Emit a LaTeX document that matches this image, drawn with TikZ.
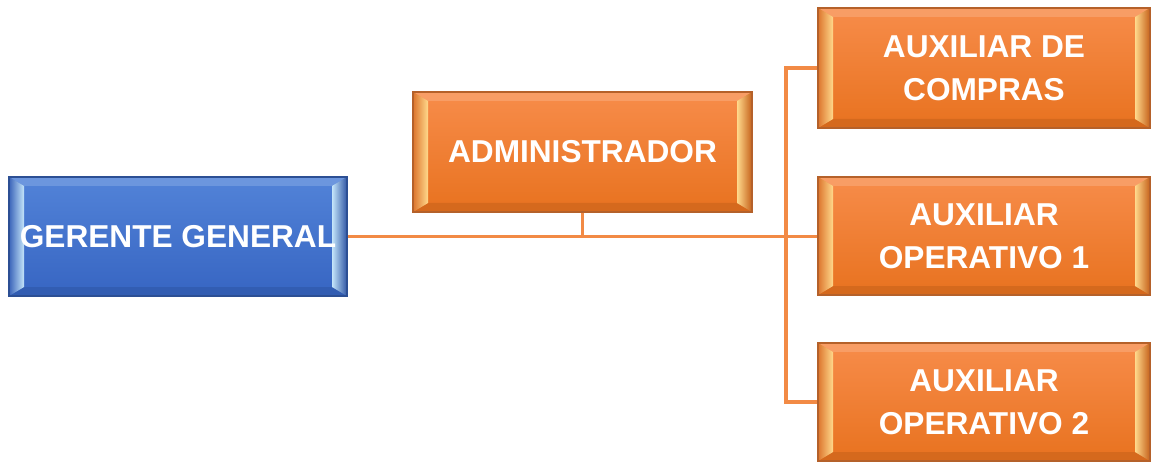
\documentclass[tikz,border=0pt]{standalone}
\usepackage{fontspec}
\setmainfont{Liberation Sans}
\usetikzlibrary{calc}

\definecolor{orgmain}{HTML}{F58232}
\definecolor{orgtop}{HTML}{F78C4A}
\definecolor{orgbot}{HTML}{E8721F}
\definecolor{orgedge}{HTML}{B5612A}
\definecolor{orghi}{HTML}{FFD98C}
\definecolor{blumain}{HTML}{416FCE}
\definecolor{blutop}{HTML}{5283D8}
\definecolor{blubot}{HTML}{3765C2}
\definecolor{bluedge}{HTML}{2C4F94}
\definecolor{bluhi}{HTML}{C4E5FA}
\definecolor{linkorg}{HTML}{F28A45}

\tikzset{
  card/.style n args={5}{draw=#4, line width=0.6pt, top color=#2, bottom color=#3,
    text=white, align=center, inner sep=0pt,
    font=\fontsize{18}{24.5}\selectfont\bfseries,
    path picture={
      \coordinate (bvsw) at (path picture bounding box.south west);
      \coordinate (bvne) at (path picture bounding box.north east);
      \coordinate (bvnw) at (bvsw |- bvne);
      \coordinate (bvse) at (bvne |- bvsw);
      % top and bottom bevel
      \fill[#2!85!white] (bvnw) -- (bvne) -- ($(bvne)+(-0.3,-0.18)$) -- ($(bvnw)+(0.3,-0.18)$) -- cycle;
      \fill[#3!92!black] (bvsw) -- (bvse) -- ($(bvse)+(-0.3,0.18)$) -- ($(bvsw)+(0.3,0.18)$) -- cycle;
      % left and right bevel
      \shade[left color=#1!90!black, right color=#5] (bvsw) -- (bvnw) -- ($(bvnw)+(0.3,-0.18)$) -- ($(bvsw)+(0.3,0.18)$) -- cycle;
      \shade[left color=#5, right color=#3!85!black] (bvse) -- (bvne) -- ($(bvne)+(-0.3,-0.18)$) -- ($(bvse)+(-0.3,0.18)$) -- cycle;
    }},
  bluecard/.style={card={blumain}{blutop}{blubot}{bluedge}{bluhi}},
  orgcard/.style={card={orgmain}{orgtop}{orgbot}{orgedge}{orghi}},
  link/.style={draw=linkorg, line width=2.2pt}
}

\begin{document}
\begin{tikzpicture}
  \useasboundingbox (0,0) rectangle (23.02,-9.24);
  \node[bluecard, minimum width=6.76cm, minimum height=2.38cm] (ger) at (3.56,-4.73) {GERENTE GENERAL};
  \node[orgcard, minimum width=6.78cm, minimum height=2.40cm] (adm) at (11.65,-3.04) {ADMINISTRADOR};
  \node[orgcard, minimum width=6.64cm, minimum height=2.40cm] (aux1) at (19.68,-1.36) {AUXILIAR DE\\COMPRAS};
  \node[orgcard, minimum width=6.64cm, minimum height=2.36cm] (aux2) at (19.68,-4.72) {AUXILIAR\\OPERATIVO 1};
  \node[orgcard, minimum width=6.64cm, minimum height=2.36cm] (aux3) at (19.68,-8.04) {AUXILIAR\\OPERATIVO 2};
  \coordinate (bus) at (15.72,0);
  \draw[link] (ger.east) -- (ger.east -| aux2.west);
  \draw[link] (adm.south) -- (adm.south |- ger.east);
  \draw[link] (aux1.west) -- (aux1.west -| bus) -- (aux3.west -| bus) -- (aux3.west);
\end{tikzpicture}
\end{document}
